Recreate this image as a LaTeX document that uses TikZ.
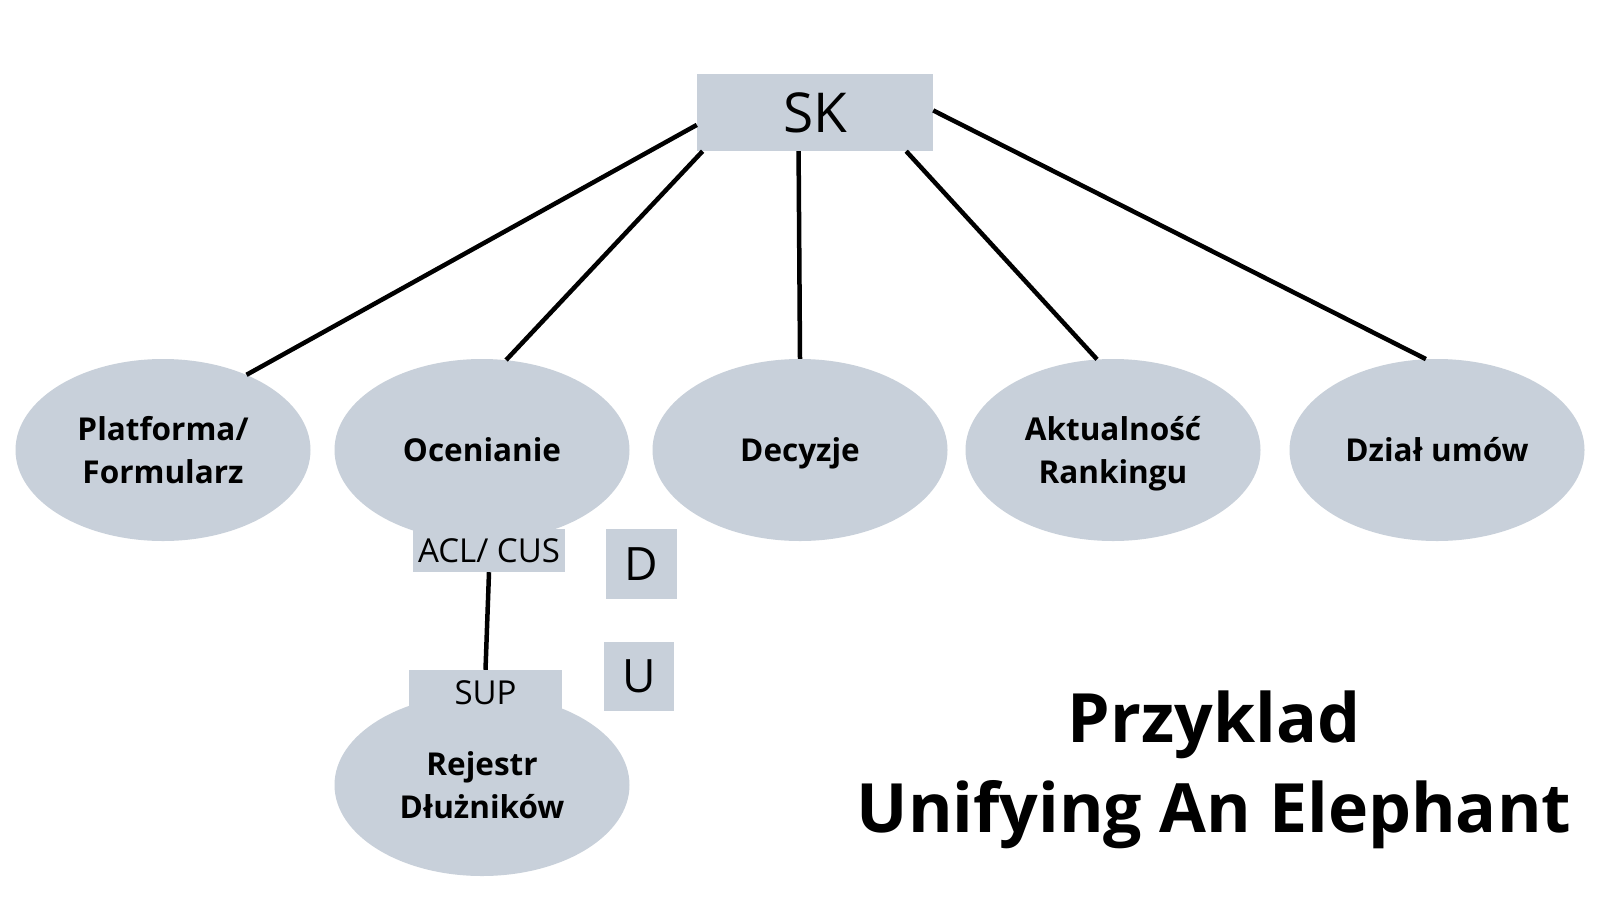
\documentclass[tikz,border=0pt]{standalone}
\usepackage{fontspec}
\setmainfont{Open Sans}
\usetikzlibrary{shapes.geometric}
\definecolor{boxgrey}{RGB}{200,208,218}
\newcommand{\cstrut}{\rule[-10pt]{0pt}{43pt}}

\begin{document}
\begin{tikzpicture}[x=1pt,y=-1pt,
    context/.style={ellipse,fill=boxgrey,minimum width=295pt,minimum height=182pt,
      inner sep=0pt,align=center,font=\bfseries\fontsize{31.5}{43}\selectfont},
    tag/.style={rectangle,fill=boxgrey,inner sep=0pt,font=\fontsize{33}{40}\selectfont},
    link/.style={line width=4.5pt}]
    \useasboundingbox[fill=white] (0,0) rectangle (1600,900);

    % Shared kernel
    \node[tag,minimum width=236pt,minimum height=77pt,font=\fontsize{55}{60}\selectfont] (sk) at (815,112.5) {SK};

    % Contexts
    \node[context] (plat) at (163,450) {\cstrut Platforma/\\\cstrut Formularz};
    \node[context] (ocen) at (482,450) {\cstrut Ocenianie};
    \node[context] (decy) at (800,450) {\cstrut Decyzje};
    \node[context] (aktu) at (1113,450) {\cstrut Aktualność\\\cstrut Rankingu};
    \node[context] (dzia) at (1437,450) {\cstrut Dział umów};
    \node[context] (reje) at (482,785) {\cstrut Rejestr\\\cstrut Dłużników};

    % Relation tags
    \node[tag,minimum width=152pt,minimum height=43pt] (acl) at (489,550.5) {ACL/ CUS};
    \node[tag,minimum width=153pt,minimum height=39pt,text height=30pt,text depth=0pt] (sup) at (485.5,689.5) {SUP};
    \node[tag,minimum width=71pt,minimum height=70pt,font=\fontsize{46}{50}\selectfont] (down) at (641.5,564) {D};
    \node[tag,minimum width=70pt,minimum height=69pt,font=\fontsize{46}{50}\selectfont] (up) at (639,676.5) {U};

    % Links
    \draw[link] (sk.186) -- (plat.42);
    \draw[link] (sk.199) -- (ocen.75);
    \draw[link] (sk.247) -- (decy.north);
    \draw[link] (sk.337) -- (aktu.100);
    \draw[link] (sk.1) -- (dzia.97);
    \draw[link] (acl.south) -- (sup.north);

    % Title
    \node[align=center,font=\bfseries\fontsize{68}{90}\selectfont] (title) at (1214,770) {Przyklad\\Unifying An Elephant};

\end{tikzpicture}
\end{document}
